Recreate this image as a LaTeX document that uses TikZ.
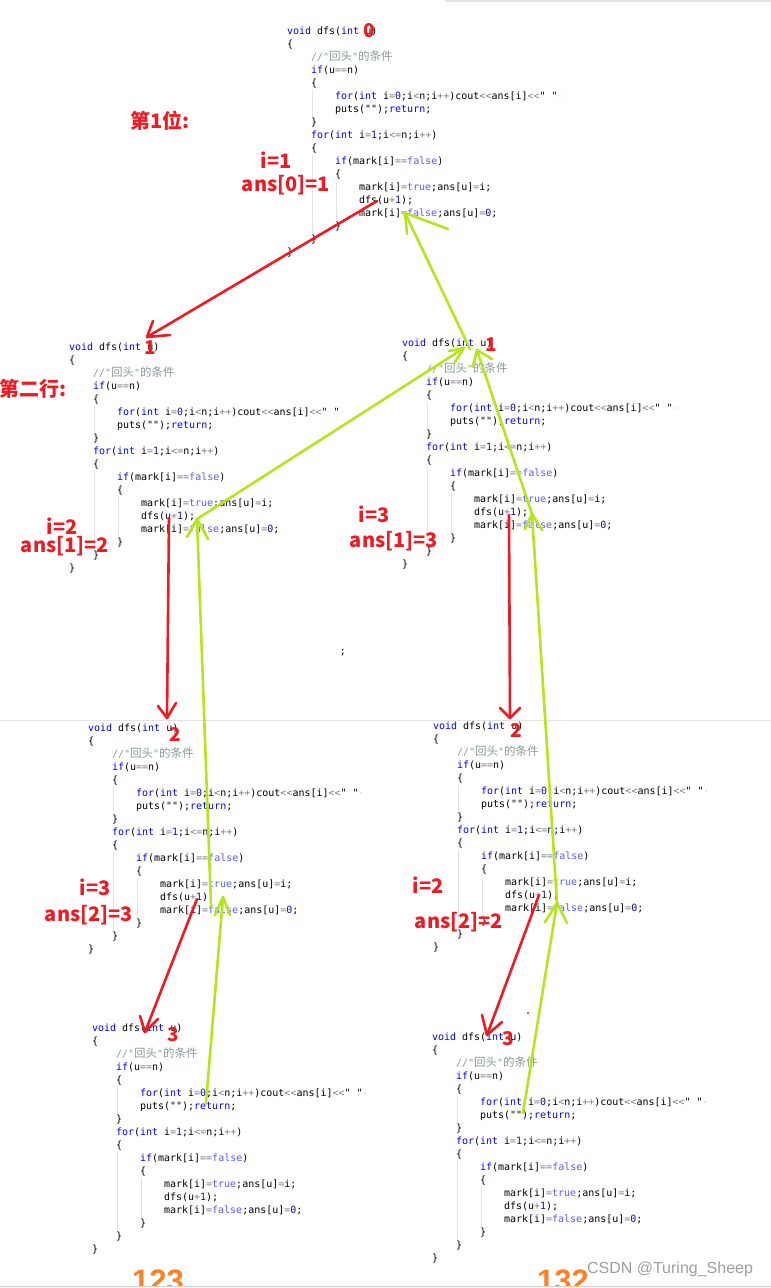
\documentclass[tikz,border=0pt]{standalone}
\usepackage{fontspec}
\setmainfont{DejaVu Sans}
\newfontfamily\codefont{DejaVu Sans Mono}[WordSpace={1,0,0}]
\newfontfamily\cjkfont{Noto Sans CJK SC}
\newfontfamily\lblfont{Noto Sans CJK SC}
\newfontfamily\wmfont{Liberation Sans}
\definecolor{kw}{HTML}{0000FF}
\definecolor{bo}{HTML}{5A5AFF}
\definecolor{op}{HTML}{7A7A8A}
\definecolor{nm}{HTML}{1010B0}
\definecolor{cm}{HTML}{8A9A9A}
\definecolor{pred}{HTML}{ED1C24}
\definecolor{plime}{HTML}{B5E61D}
\definecolor{porange}{HTML}{FF7F27}
\newcommand\Kw[1]{\textcolor{kw}{#1}}
\newcommand\Bo[1]{\textcolor{bo}{#1}}
\newcommand\Op[1]{\textcolor{op}{#1}}
\newcommand\Nm[1]{\textcolor{nm}{#1}}
\newcommand\Cm[1]{\textcolor{cm}{#1}}
\newcommand\Cj[1]{{\cjkfont\fontsize{11.5}{13}\selectfont #1}}
\tikzset{
  cl/.style={anchor=base west, inner sep=0pt, outer sep=0pt, text=black,
    font=\codefont\fontsize{10}{13}\selectfont},
  guide/.style={draw=gray!22, line width=0.6pt},
  lbl/.style={inner sep=0pt, text=pred, font=\lblfont\bfseries\fontsize{20}{20}\selectfont},
  digit/.style={inner sep=0pt, text=pred, font=\lblfont\bfseries\fontsize{19}{19}\selectfont},
  redpen/.style={draw=pred, line width=2.6pt, line cap=round, line join=round},
  greenpen/.style={draw=plime, line width=2.6pt, line cap=round, line join=round},
  result/.style={inner sep=0pt, anchor=base, text=porange, font=\wmfont\bfseries\fontsize{31}{31}\selectfont},
}
\newcommand\codeblock[3]{%
\begin{scope}[shift={(#2,#3)}]
\draw[guide] (25,58.5) -- (25,84.5);
\draw[guide] (25,123.5) -- (25,201.5);
\draw[guide] (49,149.5) -- (49,188.5);
\node[cl] (#1-l0) at (0,3.5) {\Kw{void} dfs(\Kw{int} u)};
\node[cl] (#1-l1) at (0,16.5) {\{};
\node[cl] (#1-l2) at (24,29.5) {\Cm{//"\Cj{回头}"\Cj{的条件}}};
\node[cl] (#1-l3) at (24,42.5) {\Kw{if}(u\Op{==}n)};
\node[cl] (#1-l4) at (24,55.5) {\{};
\node[cl] (#1-l5) at (48,68.5) {\Kw{for}(\Kw{int} i\Op{=}\Nm{0};i\Op{<}n;i\Op{++})cout\Op{<<}ans[i]\Op{<<}" "};
\fill[porange] (273,65) circle (0.7);
\node[cl] (#1-l6) at (48,81.5) {puts("");\Kw{return};};
\node[cl] (#1-l7) at (24,94.5) {\}};
\node[cl] (#1-l8) at (24,107.5) {\Kw{for}(\Kw{int} i\Op{=}\Nm{1};i\Op{<=}n;i\Op{++})};
\node[cl] (#1-l9) at (24,120.5) {\{};
\node[cl] (#1-l10) at (48,133.5) {\Kw{if}(mark[i]\Op{==}\Bo{false})};
\node[cl] (#1-l11) at (48,146.5) {\{};
\node[cl] (#1-l12) at (72,159.5) {mark[i]\Op{=}\Bo{true};ans[u]\Op{=}i;};
\node[cl] (#1-l13) at (72,172.5) {dfs(u\Op{+}\Nm{1});};
\node[cl] (#1-l14) at (72,185.5) {mark[i]\Op{=}\Bo{false};ans[u]\Op{=}\Nm{0};};
\node[cl] (#1-l15) at (48,198.5) {\}};
\node[cl] (#1-l16) at (24,211.5) {\}};
\node[cl] (#1-l17) at (0,224.5) {\}};
\end{scope}}
\begin{document}
\begin{tikzpicture}[x=1pt,y=-1pt]
\clip (0,0) rectangle (771,1288);
\fill[white] (0,0) rectangle (771,1288);
% page decorations
\draw[gray!22, line width=2pt] (445,1) -- (771,1);
\draw[gray!20, line width=0.8pt] (0,720) -- (771,720);

% code blocks
\codeblock{b0}{287}{31}
\codeblock{b1}{69}{347}
\codeblock{b2}{402}{343}
\codeblock{b3}{88}{728}
\codeblock{b4}{433}{726}
\codeblock{b5}{92}{1028}
\codeblock{b6}{432}{1037}

\node[inner sep=0pt, font=\codefont\fontsize{10}{13}\selectfont] (stray) at (343,653) {;};

% endpoints of the hand-drawn connectors
\coordinate (r1s) at (377,201); \coordinate (r1e) at (147,337);
\coordinate (r1a) at (153,321); \coordinate (r1b) at (170,335);
\coordinate (r2s) at (169,518); \coordinate (r2e) at (167,718);
\coordinate (r2a) at (158,706); \coordinate (r2b) at (176,703);
\coordinate (r3s) at (509,515); \coordinate (r3e) at (510,718);
\coordinate (r3a) at (500,708); \coordinate (r3b) at (520,708);
\coordinate (r4s) at (197,899); \coordinate (r4e) at (145,1032);
\coordinate (r4a) at (140,1016); \coordinate (r4b) at (158,1019);
\coordinate (r5s) at (539,895); \coordinate (r5e) at (487,1035);
\coordinate (r5a) at (482,1015); \coordinate (r5b) at (502,1022);

\coordinate (gAs) at (206,1103); \coordinate (gAe) at (223,897);
\coordinate (gAa) at (215,915); \coordinate (gAb) at (230,915);
\coordinate (gBs) at (211,906); \coordinate (gBe) at (197,519);
\coordinate (gBa) at (187,537); \coordinate (gBb) at (208,539);
\coordinate (gCs) at (197,519); \coordinate (gCe) at (464,348);
\coordinate (gCa) at (449,351); \coordinate (gCb) at (455,362);
\coordinate (gDs) at (523,1113); \coordinate (gDe) at (557,903);
\coordinate (gDa) at (545,922); \coordinate (gDb) at (567,923);
\coordinate (gEs) at (557,903); \coordinate (gEe) at (532,514);
\coordinate (gEa) at (525,529); \coordinate (gEb) at (542,530);
\coordinate (gFs) at (532,514); \coordinate (gFe) at (477,350);
\coordinate (gFa) at (473,367); \coordinate (gFb) at (492,359);
\coordinate (gGs) at (470,349); \coordinate (gGe) at (405,213);
\coordinate (gGa) at (407,234); \coordinate (gGb) at (448,229);

% red (calls)
\foreach \r in {r1,r2,r3,r4,r5}{
  \draw[redpen] (\r s) -- (\r e);
  \draw[redpen] (\r a) -- (\r e) -- (\r b);
}
\fill[pred] (528,1013) circle (1.2);
% green (returns)
\foreach \g in {gA,gB,gC,gD,gE,gF,gG}{
  \draw[greenpen] (\g s) -- (\g e);
  \draw[greenpen] (\g a) -- (\g e) -- (\g b);
}

% red digits on the parameter
\node[digit] (d0) at (369,31) {0};
\node[digit] (d1) at (150,348) {1};
\node[digit] (d2) at (491,345) {1};
\node[digit] (d3) at (175,734) {2};
\node[digit] (d4) at (516,730) {2};
\node[digit] (d5) at (173,1035) {3};
\node[digit] (d6) at (508,1039) {3};

% red labels
\node[lbl] (t1) at (160,121) {第1位:};
\node[lbl] (t2) at (33,389) {第二行:};
\node[lbl] (i0) at (276,160) {i=1};
\node[lbl] (a0) at (286,185) {ans[0]=1};
\node[lbl] (i1) at (62,526) {i=2};
\node[lbl] (a1) at (65,546) {ans[1]=2};
\node[lbl] (i2) at (374,514) {i=3};
\node[lbl] (a2) at (394,541) {ans[1]=3};
\node[lbl] (i3) at (95,887) {i=3};
\node[lbl] (a3) at (89,915) {ans[2]=3};
\node[lbl] (i4) at (428,885) {i=2};
\node[lbl] (a4) at (459,922) {ans[2]=2};

% results
\node[result] (res1) at (158,1291) {123};
\node[result] (res2) at (563,1291) {132};
\fill[gray!8] (0,1286) rectangle (771,1288);
\draw[gray!35, line width=0.8pt] (0,1286) -- (771,1286);

% watermark
\node[inner sep=0pt, text=gray!75, font=\wmfont\fontsize{16}{16}\selectfont] (wm) at (670,1269) {CSDN @Turing\_Sheep};
\end{tikzpicture}
\end{document}
